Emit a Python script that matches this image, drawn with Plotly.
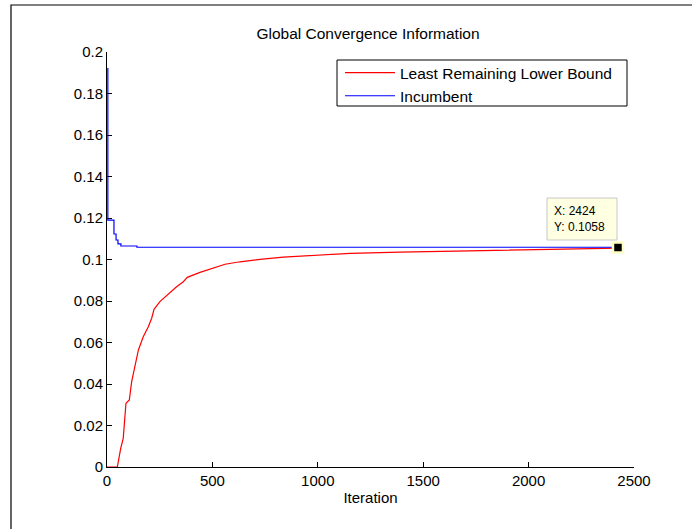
import plotly.graph_objects as go

# ---- data ----
lb_iter = [0, 49, 65, 77, 90, 106, 117, 133, 149, 172, 196, 212, 223, 251, 291, 330,
           362, 381, 441, 497, 560, 631, 726, 836, 995, 1153, 1390, 1627, 1860, 2101, 2386, 2424]
lb_vals = [0.0, 0.0, 0.009, 0.0138, 0.0307, 0.0323, 0.0411, 0.0492, 0.0564, 0.0628, 0.0676,
           0.0717, 0.0760, 0.0797, 0.0834, 0.0869, 0.0893, 0.0914, 0.0938, 0.0957, 0.0977,
           0.0989, 0.1001, 0.1011, 0.1022, 0.1030, 0.1036, 0.1041, 0.1045, 0.1049, 0.1054, 0.1055]

inc_iter = [1, 4, 33, 43, 52, 66, 142, 2424]
inc_vals = [0.192, 0.119, 0.1123, 0.1094, 0.1075, 0.1065, 0.1059, 0.1058]

tip_x = [2424]
tip_y = [0.1058]

x_ticks = [0, 500, 1000, 1500, 2000, 2500]
y_ticks = [0, 0.02, 0.04, 0.06, 0.08, 0.1, 0.12, 0.14, 0.16, 0.18, 0.2]
y_tick_text = ["0", "0.02", "0.04", "0.06", "0.08", "0.1", "0.12", "0.14", "0.16", "0.18", "0.2"]

# ---- layout constants ----
W, H = 694, 529
L, R, T, B = 107, 60, 52, 62
PW, PH = W - L - R, H - T - B
FONT = "Liberation Sans, Arial, Helvetica, sans-serif"


def px_x(p):
    return (p - L) / PW


def px_y(p):
    return (H - B - p) / PH


fig = go.Figure()
fig.add_trace(go.Scatter(x=lb_iter, y=lb_vals, mode="lines", name="Least Remaining Lower Bound",
                         line=dict(color="#ff0000", width=1.2)))
fig.add_trace(go.Scatter(x=inc_iter, y=inc_vals, mode="lines", name="Incumbent",
                         line=dict(color="#0000ff", width=1.2, shape="hv")))
fig.add_trace(go.Scatter(x=tip_x, y=tip_y, mode="markers", showlegend=False,
                         marker=dict(symbol="square", size=10, color="black",
                                     line=dict(color="#ffffc8", width=2.5))))

# legend frame
fig.add_shape(type="rect", xref="paper", yref="paper",
              x0=px_x(337), x1=px_x(627), y0=px_y(106), y1=px_y(60),
              fillcolor="white", line=dict(color="black", width=1), layer="below")

# datatip box
fig.add_shape(type="rect", xref="paper", yref="paper",
              x0=px_x(547), x1=px_x(617), y0=px_y(240), y1=px_y(198),
              fillcolor="#ffffe1", line=dict(color="#c8c8c8", width=1), layer="above")
fig.add_annotation(xref="paper", yref="paper", x=px_x(552), y=px_y(219),
                   xanchor="left", yanchor="middle", align="left", showarrow=False,
                   text=f"X: {tip_x[0]}<br>Y: {tip_y[0]:.4f}",
                   font=dict(family=FONT, size=12, color="black"))

# figure border (top and left)
fig.add_shape(type="path", xref="paper", yref="paper",
              path=f"M {px_x(11)} {px_y(529)} L {px_x(11)} {px_y(5)} L {px_x(692)} {px_y(5)}",
              line=dict(color="black", width=1.2), layer="above")

fig.update_layout(
    width=W, height=H,
    margin=dict(l=L, r=R, t=T, b=B, pad=0),
    paper_bgcolor="white", plot_bgcolor="white",
    font=dict(family=FONT, size=15, color="black"),
    title=dict(text="Global Convergence Information", x=px_x(368), xanchor="center",
               xref="paper", y=1 - 34 / H, yanchor="middle", yref="container",
               font=dict(family=FONT, size=15.5, color="black")),
    legend=dict(x=px_x(340), y=px_y(56), xanchor="left", yanchor="top",
                bgcolor="rgba(0,0,0,0)", borderwidth=0,
                font=dict(family=FONT, size=15.5, color="black"),
                itemwidth=50, tracegroupgap=0),
    showlegend=True,
)
fig.update_xaxes(range=[0, 2500], tickvals=x_ticks, ticks="inside", ticklen=5,
                 tickcolor="black", showline=True, linecolor="black", linewidth=1,
                 mirror=False, showgrid=False, zeroline=False, layer="below traces",
                 title=dict(text="Iteration", standoff=4, font=dict(family=FONT, size=15)),
                 tickfont=dict(family=FONT, size=15))
fig.update_yaxes(range=[0, 0.2], tickvals=y_ticks, ticktext=y_tick_text, ticks="inside",
                 ticklen=5, tickcolor="black", showline=True, linecolor="black", linewidth=1,
                 mirror=False, showgrid=False, zeroline=False, layer="below traces",
                 tickfont=dict(family=FONT, size=15))

fig.write_html("out.html", config={"displayModeBar": False},
               post_script="document.body.style.margin='0';")
